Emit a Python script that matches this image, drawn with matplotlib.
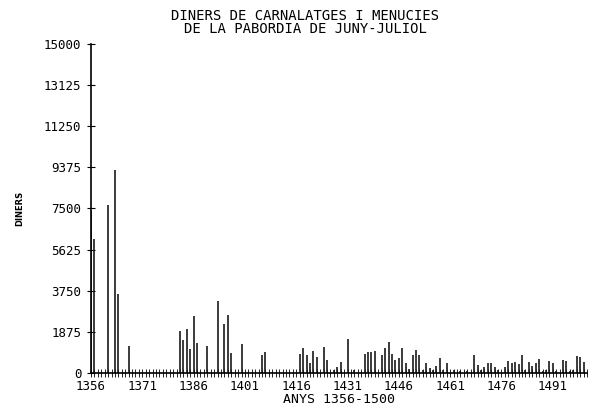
import matplotlib
matplotlib.use("Agg")
import matplotlib.pyplot as plt
from matplotlib.ticker import MultipleLocator, FixedLocator

# --- Data ---
years = [1356, 1357, 1361, 1363, 1364, 1367,
         1382, 1383, 1384, 1385, 1386, 1387, 1390, 1393, 1395, 1396, 1397, 1400,
         1406, 1407, 1417, 1418, 1419, 1420, 1421, 1422, 1424, 1425, 1427, 1428,
         1429, 1431, 1433, 1436, 1437, 1438, 1439, 1441, 1442, 1443, 1444, 1445,
         1446, 1447, 1448, 1449, 1450, 1451, 1452, 1453, 1454, 1455, 1456, 1457,
         1458, 1459, 1460, 1462, 1464, 1466, 1468, 1469, 1470, 1471, 1472, 1473,
         1474, 1475, 1477, 1478, 1479, 1480, 1481, 1482, 1483, 1484, 1485, 1486,
         1487, 1488, 1489, 1490, 1491, 1492, 1494, 1495, 1496, 1497, 1498, 1499,
         1500]
diners = [7400, 6100, 7650, 9250, 3600, 1250,
          1900, 1500, 2000, 1100, 2600, 1350, 1230, 3280, 2230, 2640, 900, 1320,
          820, 960, 870, 1140, 820, 460, 1000, 730, 1190, 590, 150, 270,
          500, 1550, 120, 870, 960, 960, 1000, 820, 1140, 1410, 870, 590,
          680, 1140, 460, 200, 820, 1050, 820, 150, 460, 230, 150, 340,
          680, 150, 460, 150, 100, 100, 820, 360, 150, 270, 460, 460,
          270, 120, 270, 550, 460, 500, 410, 820, 120, 500, 320, 460,
          640, 100, 150, 550, 460, 100, 590, 550, 100, 150, 780, 730,
          500]

x_labels = [1356, 1371, 1386, 1401, 1416, 1431, 1446, 1461, 1476, 1491]
y_labels = [0, 1875, 3750, 5625, 7500, 9375, 11250, 13125, 15000]

FONT = "DejaVu Sans Mono"

fig = plt.figure(figsize=(6.04, 4.17), dpi=100)
ax = fig.add_axes([91 / 604, 1 - 373 / 417, 496 / 604, 329 / 417])

ax.vlines(years, 0, diners, colors="#1a1a1a", linewidth=1.2)

ax.set_xlim(1356, 1501)
ax.set_ylim(0, 15000)

ax.spines["top"].set_visible(False)
ax.spines["right"].set_visible(False)
ax.spines["left"].set_linewidth(1.2)
ax.spines["bottom"].set_linewidth(1.2)

ax.xaxis.set_major_locator(FixedLocator(x_labels))
ax.xaxis.set_minor_locator(MultipleLocator(1))
ax.yaxis.set_major_locator(FixedLocator(y_labels))
ax.tick_params(axis="x", which="both", direction="inout", length=6, width=0.6, pad=2)
ax.tick_params(axis="y", direction="inout", length=6, width=0.8, pad=4)

ax.set_xticklabels([str(v) for v in x_labels], fontfamily=FONT, fontsize=9)
ax.set_yticklabels([str(v) for v in y_labels], fontfamily=FONT, fontsize=9)

ax.set_xlabel("ANYS 1356-1500", fontfamily=FONT, fontsize=9.5, labelpad=0)
ax.set_ylabel("DINERS", fontfamily="DejaVu Sans Condensed", fontsize=6,
              fontweight="bold", labelpad=14)

fig.text(305 / 604, 1 - 16 / 417, "DINERS DE CARNALATGES I MENUCIES",
         ha="center", va="center", fontfamily=FONT, fontsize=10)
fig.text(305 / 604, 1 - 29 / 417, "DE LA PABORDIA DE JUNY-JULIOL",
         ha="center", va="center", fontfamily=FONT, fontsize=10)

fig.savefig("out.png", dpi=100)
